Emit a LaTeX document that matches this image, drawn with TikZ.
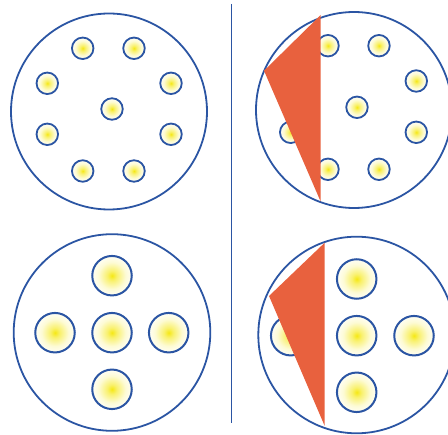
\documentclass[tikz,border=0pt]{standalone}
\usetikzlibrary{shadings}
\definecolor{ringblue}{RGB}{43,85,163}
\definecolor{wedge}{RGB}{232,97,62}
\definecolor{yelc}{RGB}{245,232,20}
\pgfdeclareradialshading{ball}{\pgfpoint{0bp}{0bp}}{color(0bp)=(yelc); color(6bp)=(yelc!62!white); color(17bp)=(yelc!18!white); color(25bp)=(white!96!yelc); color(50bp)=(white)}
\tikzset{
  big/.style={draw=ringblue, line width=1.8pt},
  dotS/.style={circle, draw=ringblue, line width=1.8pt, inner sep=0pt, minimum size=21.5pt, shading=ball},
  dotL/.style={circle, draw=ringblue, line width=2pt, inner sep=0pt, minimum size=39.5pt, shading=ball},
  cut/.style={fill=wedge, draw=none},
  divider/.style={draw=ringblue, line width=1.5pt}
}
\begin{document}
\begin{tikzpicture}[x=1pt,y=-1pt]
\useasboundingbox (0,0) rectangle (448,435);
\clip (0,0) rectangle (448,435);
% divider
\coordinate (vt) at (231.3,4);
\coordinate (vb) at (231.3,423);
\draw[divider] (vt) -- (vb);
% top-left
\draw[big] (109,111.5) circle (98);
\node[dotS] (a1) at (82.7,48.3) {};
\node[dotS] (a2) at (134,48.3) {};
\node[dotS] (a3) at (47.3,83.3) {};
\node[dotS] (a4) at (171,83.3) {};
\node[dotS] (a5) at (112,109) {};
\node[dotS] (a6) at (47.3,134.3) {};
\node[dotS] (a7) at (171,134.3) {};
\node[dotS] (a8) at (82.7,171) {};
\node[dotS] (a9) at (134,171) {};
% top-right
\draw[big] (354,110) circle (98);
\node[dotS] (b1) at (328,45.7) {};
\node[dotS] (b2) at (379,45.7) {};
\node[dotS] (b3) at (290.7,81) {};
\node[dotS] (b4) at (416.3,81) {};
\node[dotS] (b5) at (357,107.3) {};
\node[dotS] (b6) at (290.7,132.3) {};
\node[dotS] (b7) at (416.3,132.3) {};
\node[dotS] (b8) at (328,169.3) {};
\node[dotS] (b9) at (379,169.3) {};
\coordinate (t1) at (320.7,15);
\coordinate (t2) at (264,70.7);
\coordinate (t3) at (320.7,201.7);
\fill[cut] (t1) -- (t2) -- (t3) -- cycle;
% bottom-left
\draw[big] (112,332.5) circle (98.3);
\node[dotL] (c1) at (112,275.7) {};
\node[dotL] (c2) at (55,332.7) {};
\node[dotL] (c3) at (112,332.7) {};
\node[dotL] (c4) at (168.7,332.7) {};
\node[dotL] (c5) at (112,389.3) {};
% bottom-right
\draw[big] (356.6,335) circle (98.3);
\node[dotL] (d1) at (356.7,279) {};
\node[dotL] (d2) at (290.7,335.7) {};
\node[dotL] (d3) at (356.7,335.7) {};
\node[dotL] (d4) at (414,335.7) {};
\node[dotL] (d5) at (356.7,392.3) {};
\coordinate (u1) at (324.7,242.7);
\coordinate (u2) at (269,296);
\coordinate (u3) at (324.7,426);
\fill[cut] (u1) -- (u2) -- (u3) -- cycle;
\end{tikzpicture}
\end{document}
